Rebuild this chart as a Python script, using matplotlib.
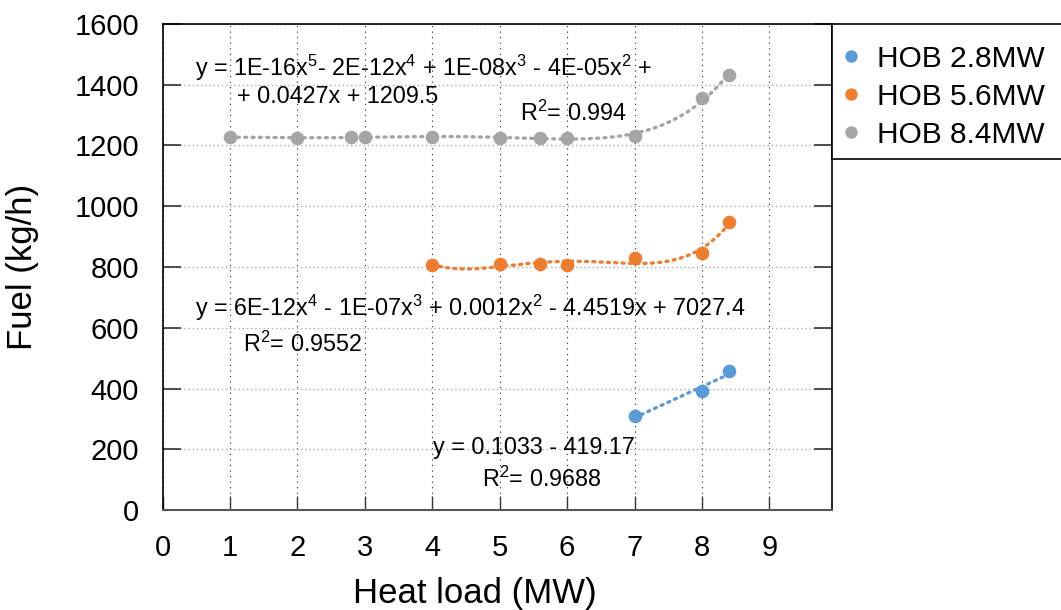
# Fuel consumption vs heat load for the three HOB units, with trendlines

import numpy as np
import matplotlib
matplotlib.use('Agg')
import matplotlib.pyplot as plt
import matplotlib.patches as mpatches

plt.rcParams['font.family'] = ['Liberation Sans', 'DejaVu Sans']
plt.rcParams['mathtext.fontset'] = 'custom'
plt.rcParams['mathtext.rm'] = 'Liberation Sans'
plt.rcParams['mathtext.default'] = 'regular'

# data
x_28 = [7, 8, 8.4]
y_28 = [308, 392, 457]

x_56 = [4, 5, 5.6, 6, 7, 8, 8.4]
y_56 = [807, 810, 810, 808, 828, 847, 948]

x_84 = [1, 2, 2.8, 3, 4, 5, 5.6, 6, 7, 8, 8.4]
y_84 = [1227, 1226, 1227, 1227, 1227, 1226, 1225, 1226, 1230, 1355, 1432]

labels = ['HOB 2.8MW', 'HOB 5.6MW', 'HOB 8.4MW']
colors = ['#5B9BD5', '#ED7D31', '#A5A5A5']
orders = [1, 4, 5]   # trendline polynomial order

x_ticks = list(range(0, 10))
y_ticks = list(range(0, 1601, 200))

fig = plt.figure(figsize=(10.61, 6.10), dpi=100)
ax = fig.add_axes([0.1533, 0.1639, 0.6309, 0.7968])

series = [(x_28, y_28), (x_56, y_56), (x_84, y_84)]
for (xs, ys), c, lab, k in zip(series, colors, labels, orders):
    # trendline like excel: polynomial fit over data range
    p = np.polyfit(xs, ys, k)
    xx = np.linspace(min(xs), max(xs), 200)
    ax.plot(xx, np.polyval(p, xx), color=c, lw=2.4,
            linestyle=(0, (0.6, 1.6)), dash_capstyle='round', zorder=3)
    ax.plot(xs, ys, 'o', color=c, markersize=8.8, label=lab, zorder=4)

ax.set_xlim(0, 9.93)
ax.set_ylim(0, 1600)
ax.set_xticks(x_ticks)
ax.set_yticks(y_ticks)

# grid: vertical dark dotted, horizontal light dotted
ax.xaxis.grid(True, color='#222222', linestyle=(0, (1, 4)), lw=0.8)
ax.yaxis.grid(True, color='#aaaaaa', linestyle=(0, (1, 2)), lw=1.0)
ax.set_axisbelow(True)

ax.tick_params(axis='y', direction='in', length=13, width=1.2, labelsize=21,
               pad=17, right=True, colors='#333333', labelcolor='black')
ax.tick_params(axis='x', direction='in', length=10, width=1.0, labelsize=21,
               pad=17, colors='#333333', labelcolor='black')

for s in ['left', 'right', 'top']:
    ax.spines[s].set_color('black')
    ax.spines[s].set_linewidth(1.2)
ax.spines['bottom'].set_color('#555555')
ax.spines['bottom'].set_linewidth(1.5)

ax.set_xlabel('Heat load (MW)', fontsize=25)
ax.xaxis.set_label_coords(0.467, -0.137)
ax.set_ylabel('Fuel (kg/h)', fontsize=25)
ax.yaxis.set_label_coords(-0.185, 0.5)

# trendline equations
fs = 16.8
ax.text(0.48, 1454, 'y = 1E-16x$^{5}$- 2E-12x$^{4}$ + 1E-08x$^{3}$ - 4E-05x$^{2}$ +',
        fontsize=fs, va='center', ha='left')
ax.text(1.10, 1362, '+ 0.0427x + 1209.5', fontsize=fs, va='center', ha='left')
ax.text(5.30, 1306, 'R$^{2}$= 0.994', fontsize=fs, va='center', ha='left')

ax.text(0.48, 666, 'y = 6E-12x$^{4}$ - 1E-07x$^{3}$ + 0.0012x$^{2}$ - 4.4519x + 7027.4',
        fontsize=fs, va='center', ha='left')
ax.text(1.19, 545, 'R$^{2}$= 0.9552', fontsize=fs, va='center', ha='left')

ax.text(4.01, 207, 'y = 0.1033 - 419.17', fontsize=fs, va='center', ha='left')
ax.text(4.74, 102, 'R$^{2}$= 0.9688', fontsize=fs, va='center', ha='left')

# legend box sitting against the right spine, running off the right edge
box = mpatches.Rectangle((1.0, 0.722), 0.45, 0.278, transform=ax.transAxes,
                         facecolor='white', edgecolor='black', lw=1.2,
                         clip_on=False, zorder=5)
ax.add_patch(box)
leg = ax.legend(loc='upper left', bbox_to_anchor=(1.0, 1.0 - 15 / 486),
                frameon=False, fontsize=21.5, markerscale=0.9,
                borderpad=0.2, borderaxespad=0, handlelength=0.87,
                handletextpad=0.43, labelspacing=0.33)
leg.set_zorder(6)

fig.savefig('out.png', dpi=100)
